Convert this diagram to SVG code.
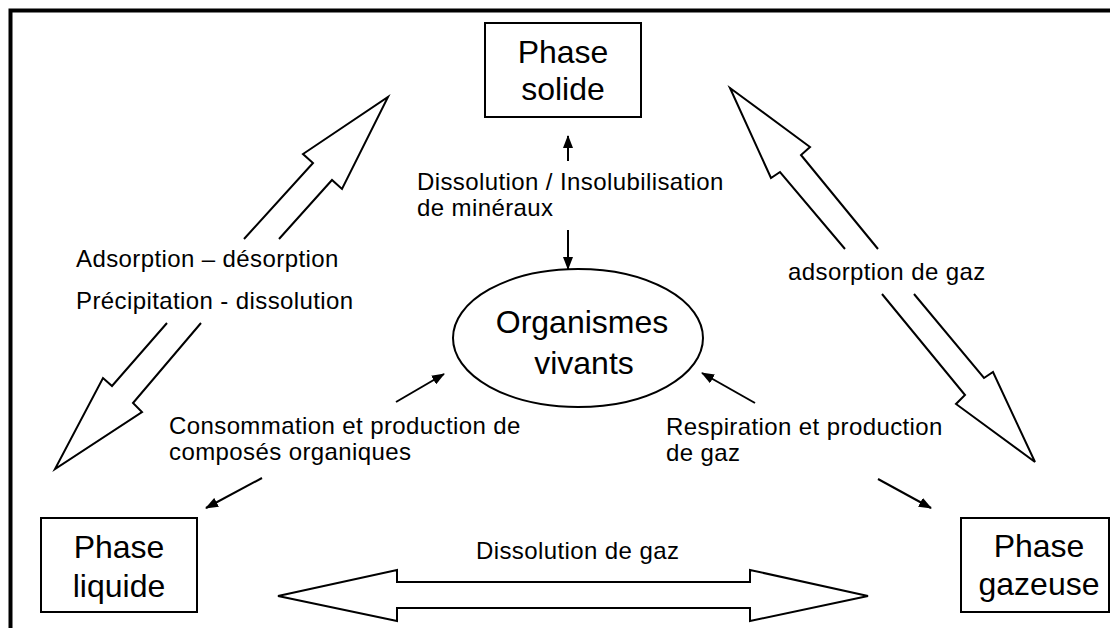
<svg xmlns="http://www.w3.org/2000/svg" width="1110" height="628" viewBox="0 0 1110 628">
<defs>
<marker id="ah" markerWidth="13" markerHeight="10" refX="12" refY="5" orient="auto" markerUnits="userSpaceOnUse">
<path d="M0,0 L13,5 L0,10 Z" fill="#000"/>
</marker>
<style>
.box{fill:#fff;stroke:#000;stroke-width:2}
.big{font-family:"Liberation Sans",Arial,sans-serif;font-size:32px;fill:#000;text-anchor:middle}
.lbl{font-family:"Liberation Sans",Arial,sans-serif;font-size:24px;letter-spacing:0.4px;fill:#000}
.fat{fill:#fff;stroke:#000;stroke-width:2;stroke-linejoin:miter}
.thin{stroke:#000;stroke-width:2;fill:none;marker-end:url(#ah)}
</style>
</defs>
<rect width="1110" height="628" fill="#fff"/>
<path d="M10.5,628 L10.5,10.5 L1110,10.5" fill="none" stroke="#000" stroke-width="4"/>

<g id="connectors">
<!-- solide <-> liquide -->
<path class="fat" d="M244,239 L313,163 L303,154 L388,97 L342,189 L332,180 L279,239"/>
<path class="fat" d="M167,323 L112,386 L103,378 L55,469 L142,412 L133,403 L201,323"/>
<!-- solide <-> gazeuse -->
<path class="fat" d="M845,249 L780,172 L771,178 L730,88 L810,147 L801,155 L878,249"/>
<path class="fat" d="M882,294 L965,395 L956,404 L1035,462 L993,372 L984,378 L914,294"/>
<!-- liquide <-> gazeuse -->
<path class="fat" d="M397,582 L750,582 L750,570 L868,596 L750,621 L750,608 L397,608 L397,621 L278,596 L397,570 Z"/>
<!-- small arrows -->
<line class="thin" x1="568" y1="161" x2="568" y2="136"/>
<line class="thin" x1="568" y1="230" x2="568" y2="269"/>
<line class="thin" x1="396" y1="402" x2="444" y2="374"/>
<line class="thin" x1="262" y1="478" x2="206" y2="508"/>
<line class="thin" x1="755" y1="403" x2="702" y2="373"/>
<line class="thin" x1="878" y1="479" x2="931" y2="508"/>
<text class="lbl" x="417" y="190">Dissolution / Insolubilisation</text>
<text class="lbl" x="417" y="216">de minéraux</text>
<text class="lbl" x="76" y="267">Adsorption – désorption</text>
<text class="lbl" x="76" y="309">Précipitation - dissolution</text>
<text class="lbl" x="788" y="280">adsorption de gaz</text>
<text class="lbl" x="169" y="434">Consommation et production de</text>
<text class="lbl" x="169" y="460">composés organiques</text>
<text class="lbl" x="666" y="435">Respiration et production</text>
<text class="lbl" x="666" y="461">de gaz</text>
<text class="lbl" x="476" y="559">Dissolution de gaz</text>
</g>

<g id="phase-solide">
<rect class="box" x="485" y="23" width="156" height="94"/>
<text class="big" x="563" y="63">Phase</text>
<text class="big" x="563" y="100">solide</text>
</g>

<g id="organismes-vivants">
<ellipse cx="578" cy="338" rx="125" ry="69" fill="#fff" stroke="#000" stroke-width="2"/>
<text class="big" x="582" y="333">Organismes</text>
<text class="big" x="584" y="374">vivants</text>
</g>

<g id="phase-liquide">
<rect class="box" x="41" y="518" width="156" height="94"/>
<text class="big" x="119" y="558">Phase</text>
<text class="big" x="119" y="597">liquide</text>
</g>

<g id="phase-gazeuse">
<rect class="box" x="961" y="518" width="148" height="94"/>
<text class="big" x="1039" y="557">Phase</text>
<text class="big" x="1039" y="595">gazeuse</text>
</g>
</svg>
